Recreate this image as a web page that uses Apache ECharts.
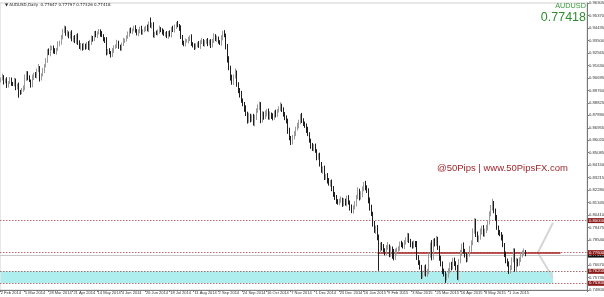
<!DOCTYPE html>
<html>
<head>
<meta charset="utf-8">
<script src="https://cdn.jsdelivr.net/npm/echarts@6/dist/echarts.min.js"></script>
<style>
html,body{margin:0;padding:0;background:#fff;}
#c{width:604px;height:297px;}
</style>
</head>
<body>
<div id="c"></div>
<script>
// ---- DATA (estimated) ----
const symbol = 'AUDUSD';
const headerText = '\u25BC AUDUSD,Daily  0.77647 0.77797 0.77326 0.77418';
const lastPrice = 0.77418;
const firstOpen = 0.9050;
const closes = [
0.9060,0.9082,0.9041,0.9049,0.9012,0.9034,0.9058,0.9030,0.9021,0.9049,
0.8997,0.9015,0.8971,0.8959,0.8980,0.8989,0.9065,0.9109,0.9072,0.9048,
0.9012,0.9072,0.9095,0.9080,0.9124,0.9147,0.9064,0.9090,0.9124,0.9160,
0.9199,0.9274,0.9250,0.9290,0.9297,0.9272,0.9259,0.9285,0.9327,0.9334,
0.9370,0.9424,0.9445,0.9398,0.9409,0.9380,0.9402,0.9356,0.9372,0.9340,
0.9387,0.9330,0.9297,0.9318,0.9290,0.9312,0.9300,0.9327,0.9289,0.9330,
0.9372,0.9360,0.9402,0.9385,0.9409,0.9420,0.9398,0.9387,0.9360,0.9349,
0.9259,0.9275,0.9259,0.9240,0.9274,0.9298,0.9310,0.9334,0.9300,0.9289,
0.9320,0.9349,0.9355,0.9372,0.9395,0.9430,0.9418,0.9430,0.9445,0.9424,
0.9402,0.9415,0.9439,0.9410,0.9424,0.9436,0.9449,0.9430,0.9477,0.9460,
0.9470,0.9387,0.9405,0.9402,0.9420,0.9439,0.9425,0.9411,0.9395,0.9402,
0.9380,0.9411,0.9392,0.9439,0.9425,0.9455,0.9477,0.9460,0.9439,0.9375,
0.9336,0.9320,0.9345,0.9349,0.9360,0.9374,0.9327,0.9310,0.9299,0.9315,
0.9327,0.9305,0.9338,0.9349,0.9320,0.9336,0.9350,0.9327,0.9340,0.9310,
0.9349,0.9387,0.9360,0.9364,0.9340,0.9327,0.9370,0.9411,0.9387,0.9299,
0.9214,0.9149,0.9074,0.9036,0.9080,0.9111,0.9027,0.8974,0.8950,0.8899,
0.8877,0.8840,0.8802,0.8749,0.8790,0.8760,0.8774,0.8727,0.8780,0.8824,
0.8850,0.8877,0.8749,0.8802,0.8780,0.8802,0.8824,0.8774,0.8800,0.8787,
0.8770,0.8811,0.8795,0.8824,0.8840,0.8862,0.8830,0.8802,0.8770,0.8749,
0.8674,0.8620,0.8586,0.8630,0.8652,0.8690,0.8712,0.8740,0.8787,0.8749,
0.8730,0.8712,0.8680,0.8652,0.8599,0.8562,0.8540,0.8560,0.8524,0.8474,
0.8490,0.8427,0.8374,0.8390,0.8324,0.8340,0.8299,0.8277,0.8290,0.8239,
0.8200,0.8174,0.8150,0.8136,0.8149,0.8160,0.8127,0.8149,0.8130,0.8174,
0.8140,0.8099,0.8074,0.8100,0.8127,0.8180,0.8224,0.8174,0.8200,0.8239,
0.8277,0.8250,0.8224,0.8149,0.8100,0.8052,0.7977,0.7924,0.7950,0.7874,
0.7774,0.7820,0.7799,0.7780,0.7761,0.7799,0.7810,0.7749,0.7790,0.7774,
0.7724,0.7770,0.7787,0.7790,0.7827,0.7824,0.7810,0.7836,0.7860,0.7887,
0.7850,0.7824,0.7810,0.7836,0.7824,0.7724,0.7690,0.7649,0.7587,0.7610,
0.7649,0.7600,0.7624,0.7740,0.7824,0.7724,0.7849,0.7830,0.7862,0.7799,
0.7720,0.7674,0.7624,0.7600,0.7574,0.7590,0.7624,0.7674,0.7650,0.7699,
0.7680,0.7649,0.7574,0.7699,0.7760,0.7811,0.7774,0.7740,0.7712,0.7749,
0.7790,0.7836,0.7920,0.8000,0.7899,0.7860,0.7874,0.7920,0.7949,0.7900,
0.7924,0.7949,0.7990,0.8049,0.8100,0.8136,0.8074,0.8020,0.7949,0.7912,
0.7900,0.7874,0.7820,0.7749,0.7700,0.7674,0.7624,0.7649,0.7710,0.7774,
0.7637,0.7699,0.7680,0.7712,0.7740,0.7761,0.77647,0.77418
];
// upper / lower wick lengths in pips (1 pip = 0.0001)
const wickHi = [
12,20,8,15,25,10,18,14,9,22, 16,11,19,8,14,24,30,12,10,17,
9,21,13,18,15,26,11,14,20,12, 19,10,16,23,12,15,20,9,17,14,
22,13,17,11,19,8,15,24,12,18, 10,16,21,13,9,20,14,11,18,25,
15,12,18,20,9,16,13,22,10,14, 26,11,17,12,19,15,10,21,14,18,
13,20,9,16,22,12,17,10,15,19, 11,18,14,21,9,16,12,20,15,45,
14,17,10,19,13,22,11,16,20,12, 18,9,15,12,21,14,10,19,13,24,
16,12,20,11,17,14,22,10,18,13, 9,19,14,21,12,16,11,18,15,20,
13,17,10,22,15,12,19,11,16,14, 25,18,12,20,15,30,14,10,19,22,
16,12,24,14,18,11,20,26,13,17, 21,15,11,18,14,22,12,16,19,10,
17,13,20,12,16,25,14,19,11,18, 15,22,14,11,19,13,21,16,12,20,
18,12,16,23,10,15,20,13,17,11, 14,19,12,17,22,10,16,20,13,18,
20,14,18,11,16,21,12,19,15,13, 17,11,22,14,19,12,26,15,20,16,
13,21,15,18,24,19,14,20,12,17, 22,16,19,25,13,18,30,12,21,16,
14,20,11,18,16,22,13,19,15,21, 18,13,20,15,11,23,17,12,19,14,
16,22,14,19,12,30,15,20,24,17, 13,18,21,16,20,14,19,12,17,22,
24,15,19,13,21,17,26,14,18,12, 20,16,22,18,14,19,15,21,13,17,
15,19,13,20,17,28,11,16,22,14, 18,14,21,12,19,16,20,17,15,19,
17,22,16,14,20,15,26,15
];
const wickLo = [
14,10,22,12,18,15,9,20,13,16, 20,14,50,17,11,15,12,18,21,10,
16,13,19,11,15,12,22,14,9,18, 12,17,10,19,14,20,11,16,13,21,
15,11,18,13,20,14,17,12,19,10, 18,14,11,21,16,12,19,15,10,17,
13,19,15,11,17,14,20,12,16,18, 21,16,12,18,14,19,11,17,13,15,
17,12,19,14,10,18,15,21,12,16, 14,20,11,16,19,13,17,12,18,15,
22,15,18,12,16,20,13,17,11,19, 13,18,14,20,12,16,19,11,17,14,
19,14,16,12,21,15,18,13,20,16, 16,11,19,15,13,18,12,20,14,17,
12,18,15,20,14,11,17,19,13,16, 30,22,25,18,20,15,24,19,28,16,
20,25,18,22,17,24,19,15,21,26, 16,21,19,14,24,18,22,17,20,25,
19,15,22,18,14,20,16,23,17,21, 24,18,20,16,22,19,15,21,18,17,
21,17,23,19,15,24,18,20,16,22, 18,22,16,24,20,17,21,15,23,19,
22,19,25,17,21,16,24,20,18,23, 20,24,18,22,16,21,19,23,17,25,
19,23,17,20,25,18,22,16,24,21, 150,20,24,18,22,19,17,23,21,60,
22,18,25,20,17,23,19,24,16,21, 18,24,20,17,23,19,22,16,25,20,
23,19,21,25,18,22,17,24,20,19, 21,17,24,19,41,22,18,20,23,17,
20,22,18,24,19,23,21,17,25,20, 19,24,21,18,22,20,25,17,23,19,
22,18,23,20,17,24,19,22,18,21, 17,23,19,22,20,18,24,21,19,22,
20,18,24,19,22,17,21,9
];
const xTicks = ['2 Feb 2014','5 Mar 2014','28 Mar 2014','21 Apr 2014','14 May 2014','4 Jun 2014',
  '26 Jun 2014','18 Jul 2014','11 Aug 2014','2 Sep 2014','24 Sep 2014','16 Oct 2014','7 Nov 2014',
  '1 Dec 2014','23 Dec 2014','16 Jan 2015','9 Feb 2015','3 Mar 2015','25 Mar 2015','16 Apr 2015',
  '8 May 2015','1 Jun 2015'];
const barsPerTick = 16;
const totalSlots = 388;           // bars + empty right margin (chart shift)
const yMin = 0.748, yMax = 0.96305, yStep = 0.00935;
const resistanceLevel = 0.80000;
const pivotLevel = 0.77600;
const pivotSegment = [249, 370];
const zoneTop = 0.76200, zoneBottom = 0.75300, zoneEnd = 365;
const chevronIdx = [364.6, 354.6, 365.2];
const chevronPrice = [0.7984, 0.7759, 0.7572];

// ---- BUILD ----
const cats = [];
for (let i = 0; i < totalSlots; i++) cats.push(String(i));
const ohlc = closes.map((c, i) => {
  const o = i === 0 ? firstOpen : closes[i - 1];
  const h = Math.max(o, c) + wickHi[i] / 10000;
  const l = Math.min(o, c) - wickLo[i] / 10000;
  return [o, c, l, h];
});
const tickShow = (idx) => idx % barsPerTick === 0 && idx / barsPerTick < xTicks.length;

const boxLabel = (bg) => ({
  show: true, position: 'end', distance: 1,
  formatter: (p) => Number(p.value).toFixed(5),
  color: '#fff', backgroundColor: bg, fontSize: 4.2, padding: [0.5, 1],
  fontFamily: 'Liberation Sans'
});

const chart = echarts.init(document.getElementById('c'), null, {renderer: 'canvas'});
chart.setOption({
  animation: false,
  backgroundColor: '#fff',
  grid: {left: 0, right: 17, top: 3, bottom: 7, show: true, borderColor: '#d0d0d0', borderWidth: 1,
    containLabel: false, outerBoundsMode: 'none'},
  xAxis: {
    type: 'category', data: cats, boundaryGap: true,
    axisLine: {lineStyle: {color: '#777', width: 1}},
    axisTick: {show: true, interval: tickShow, length: 2, lineStyle: {color: '#777'}},
    axisLabel: {
      interval: tickShow, fontSize: 4, color: '#333', margin: 1, align: 'left',
      fontFamily: 'Liberation Sans',
      formatter: (v, idx) => xTicks[idx / barsPerTick] || ''
    },
    splitLine: {show: false}
  },
  yAxis: {
    type: 'value', position: 'right', min: yMin, max: yMax, interval: yStep, scale: true,
    axisLine: {show: true, lineStyle: {color: '#777', width: 1}},
    axisTick: {show: true, length: 2, lineStyle: {color: '#777'}},
    axisLabel: {fontSize: 4.2, color: '#333', margin: 2, fontFamily: 'Liberation Sans',
      formatter: (v) => v.toFixed(5)},
    splitLine: {show: false}
  },
  series: [
    {
      type: 'line', data: [], z: 1, silent: true,
      markArea: {
        silent: true,
        itemStyle: {color: '#aeeeee', opacity: 1},
        data: [[{xAxis: 0, yAxis: zoneTop}, {xAxis: zoneEnd, yAxis: zoneBottom}]]
      }
    },
    {
      type: 'line', z: 2, silent: true, symbol: 'none',
      data: chevronIdx.map((x, i) => [x, chevronPrice[i]]),
      lineStyle: {color: '#d6d6d6', width: 2}
    },
    {
      type: 'candlestick', z: 5, data: ohlc, barWidth: 1,
      itemStyle: {color: '#9a9a9a', color0: '#1e1e1e', borderColor: '#9a9a9a', borderColor0: '#1e1e1e', borderWidth: 1},
      markLine: {
        silent: true, symbol: ['none', 'none'], animation: false, precision: 5,
        data: [
          {yAxis: resistanceLevel, lineStyle: {color: '#c07070', type: [1.5, 1.5], width: 1}, label: boxLabel('#8b1a1a')},
          {yAxis: lastPrice, lineStyle: {color: '#c8c8c8', type: 'solid', width: 1}, label: boxLabel('#111')},
          {yAxis: pivotLevel, lineStyle: {color: '#c07070', type: [1.5, 1.5], width: 1}, label: boxLabel('#8b1a1a')},
          {yAxis: zoneTop, lineStyle: {color: '#a07070', type: [1.5, 1.5], width: 1}, label: boxLabel('#8b1a1a')},
          {yAxis: zoneBottom, lineStyle: {color: '#c07070', type: [1.5, 1.5], width: 1}, label: boxLabel('#8b1a1a')},
          [{coord: [pivotSegment[0], pivotLevel], lineStyle: {color: '#a52020', type: 'solid', width: 1.6}, label: {show: false}},
           {coord: [pivotSegment[1], pivotLevel]}]
        ]
      }
    }
  ],
  graphic: [
    {type: 'text', left: 5, top: 3, z: 100, style: {text: headerText, fontSize: 4, fill: '#222', fontFamily: 'DejaVu Sans'}},
    {type: 'text', right: 18, top: 2, z: 100, style: {text: symbol, fontSize: 7.3, fill: '#3a9a3a', fontFamily: 'Liberation Sans'}},
    {type: 'text', right: 18, top: 11, z: 100, style: {text: lastPrice.toFixed(5), fontSize: 12.5, fill: '#2f8f2f', fontFamily: 'Liberation Sans'}},
    {type: 'text', left: 437, top: 163, z: 100, style: {text: '@50Pips | www.50PipsFX.com', fontSize: 9.5, fill: '#a0282d', fontFamily: 'Liberation Sans'}}
  ]
});
</script>
</body>
</html>
